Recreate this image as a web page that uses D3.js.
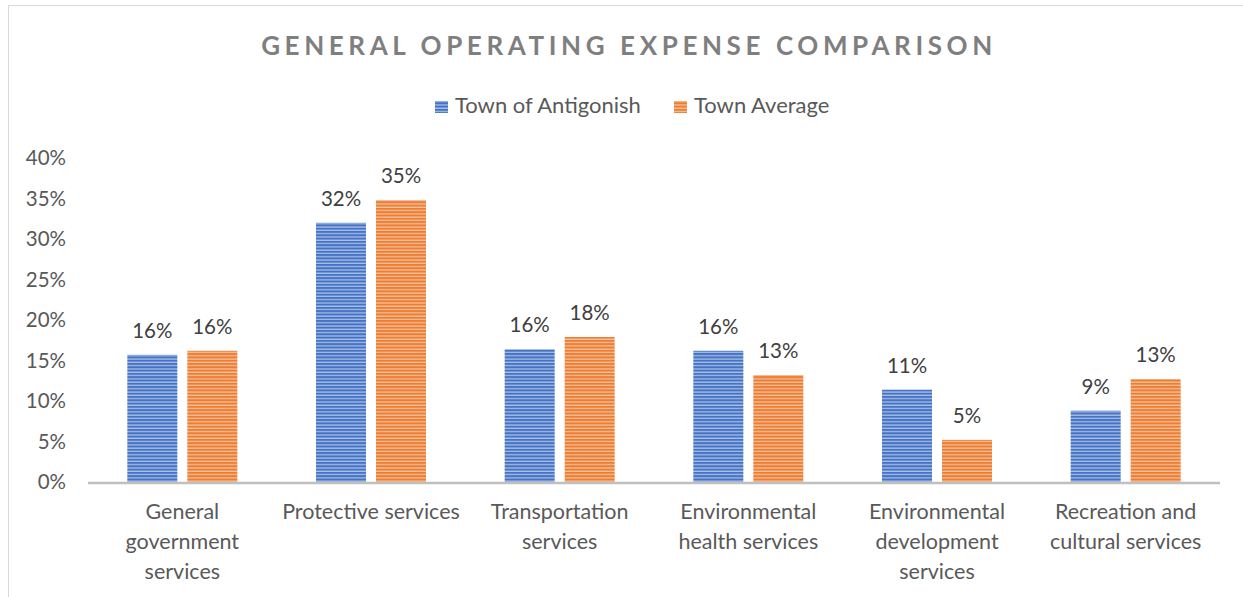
<!DOCTYPE html>
<html><head><meta charset="utf-8">
<script src="https://cdn.jsdelivr.net/npm/d3@7"></script>
<style>body{margin:0;background:#fff}svg{display:block}</style>
</head><body><svg id="c" width="1243" height="597"></svg>
<script>
const categories = [
  ["General","government","services"],
  ["Protective services"],
  ["Transportation","services"],
  ["Environmental","health services"],
  ["Environmental","development","services"],
  ["Recreation and","cultural services"]
];
const seriesNames = ["Town of Antigonish","Town Average"];
const antigonish = [0.157, 0.320, 0.164, 0.162, 0.114, 0.088];
const townAverage = [0.162, 0.348, 0.179, 0.132, 0.052, 0.127];
const yTicks = [0,0.05,0.10,0.15,0.20,0.25,0.30,0.35,0.40];
const colors = ["#4472c4","#ed7d31"];
const light = ["#a9bfe6","#f6c09b"];

const svg = d3.select("#c");
const font = "Lato, 'Open Sans', sans-serif";
svg.append("rect").attr("x",8.5).attr("y",5.5).attr("width",1240).attr("height",600)
  .attr("fill","#fff").attr("stroke","#d9d9d9");

const defs = svg.append("defs");
colors.forEach((c,i)=>{
  const p = defs.append("pattern").attr("id","p"+i).attr("patternUnits","userSpaceOnUse")
    .attr("width",6).attr("height",3.3);
  p.append("rect").attr("width",6).attr("height",3.3).attr("fill",light[i]);
  p.append("rect").attr("width",6).attr("height",2).attr("fill",c);
});

const x0 = 88, x1 = 1220, yTop = 158, yBot = 482;
const x = d3.scaleBand().domain(d3.range(categories.length)).range([x0,x1]);
const y = d3.scaleLinear().domain([0,0.40]).range([yBot,yTop]);

svg.append("text").attr("x",629).attr("y",55).attr("text-anchor","middle")
  .attr("font-family",font).attr("font-size",26).attr("font-weight","bold")
  .attr("letter-spacing",4.6).attr("fill","#7f7f7f").text("GENERAL OPERATING EXPENSE COMPARISON");

// legend
const lg = [{x:435,name:seriesNames[0],i:0},{x:674,name:seriesNames[1],i:1}];
lg.forEach(d=>{
  svg.append("rect").attr("x",d.x).attr("y",101).attr("width",13).attr("height",12).attr("fill","url(#p"+d.i+")");
  svg.append("text").attr("x",d.x+20).attr("y",113).attr("font-family",font).attr("font-size",22)
    .attr("fill","#595959").text(d.name);
});

// y axis labels
svg.append("g").selectAll("text").data(yTicks).join("text")
  .attr("x",66).attr("y",d=>y(d)+7).attr("text-anchor","end")
  .attr("font-family",font).attr("font-size",20.5).attr("fill","#595959")
  .text(d=>d3.format(".0%")(d));

const bw = 50, gap = 10;
const series = [antigonish, townAverage];
series.forEach((vals,si)=>{
  const g = svg.append("g");
  g.selectAll("rect").data(vals).join("rect")
    .attr("x",(d,i)=>x(i)+x.bandwidth()/2 - bw - gap/2 + si*(bw+gap))
    .attr("y",d=>y(d)).attr("width",bw).attr("height",d=>yBot-y(d))
    .attr("fill","url(#p"+si+")");
  g.selectAll("text").data(vals).join("text")
    .attr("x",(d,i)=>x(i)+x.bandwidth()/2 - bw/2 - gap/2 + si*(bw+gap))
    .attr("y",d=>y(d)-17).attr("text-anchor","middle")
    .attr("font-family",font).attr("font-size",20.5).attr("fill","#404040")
    .text(d=>d3.format(".0%")(d));
});

svg.append("line").attr("x1",x0).attr("x2",x1).attr("y1",yBot+1).attr("y2",yBot+1)
  .attr("stroke","#bfbfbf").attr("stroke-width",2.5);

// category labels
const cg = svg.append("g").selectAll("text").data(categories).join("text")
  .attr("text-anchor","middle").attr("font-family",font).attr("font-size",21.5).attr("fill","#595959");
cg.each(function(lines,i){
  d3.select(this).selectAll("tspan").data(lines).join("tspan")
    .attr("x",x(i)+x.bandwidth()/2).attr("y",(d,j)=>519+j*30).text(d=>d);
});
</script></body></html>
